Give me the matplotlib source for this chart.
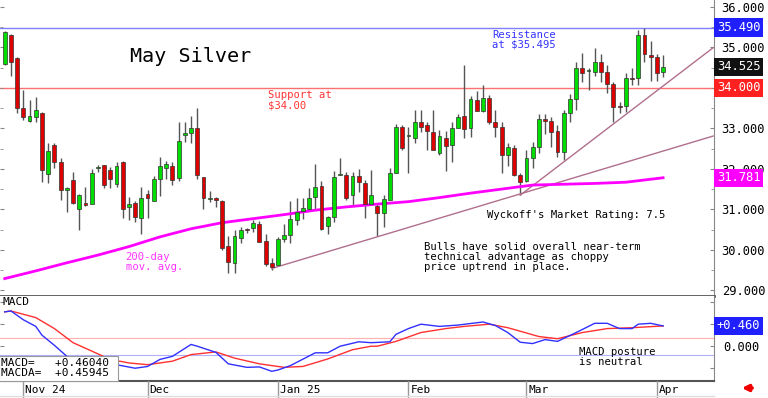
#!/usr/bin/env python3
import numpy as np
import matplotlib
matplotlib.use('Agg')
import matplotlib.pyplot as plt
import matplotlib.transforms as mtransforms

plt.rcParams['font.family'] = ['DejaVu Sans Mono']

# daily OHLC, May silver futures (late Oct 2024 - early Apr 2025)
opens = [34.58, 35.31, 34.73, 33.51, 33.19, 33.29, 33.37, 31.87, 32.59, 32.16,
         31.49, 31.72, 31.00, 31.15, 31.13, 32.01, 32.09, 31.97, 31.62, 32.18,
         31.05, 31.15, 30.78, 31.37, 31.21, 31.74, 32.03, 32.08, 31.77, 32.83,
         32.88, 33.00, 31.79, 31.25, 31.29, 31.20, 30.09, 29.68, 30.30, 30.50,
         30.55, 30.64, 30.21, 29.68, 29.62, 30.26, 30.36, 30.73, 30.96, 31.02,
         31.31, 31.58, 30.59, 30.82, 31.85, 31.86, 31.35, 31.82, 31.66, 31.13,
         31.08, 30.90, 31.23, 31.90, 33.04, 32.80, 32.75, 33.16, 33.08, 32.92,
         32.38, 32.77, 32.59, 33.02, 33.30, 33.00, 33.70, 33.43, 33.76, 33.15,
         33.04, 32.34, 32.52, 31.85, 31.70, 32.26, 32.55, 33.22, 33.19, 32.94,
         32.42, 33.37, 33.72, 34.50, 34.41, 34.40, 34.65, 34.40, 34.09, 33.55,
         33.54, 34.25, 34.24, 35.31, 34.81, 34.75, 34.38]
highs = [35.40, 35.33, 34.77, 33.95, 33.70, 33.78, 33.40, 32.65, 32.65, 32.27,
         31.54, 31.93, 31.39, 31.54, 31.99, 32.10, 32.09, 32.05, 32.16, 32.20,
         31.30, 31.20, 31.56, 31.49, 31.83, 32.30, 32.19, 32.16, 33.16, 33.16,
         33.31, 33.50, 31.80, 31.46, 31.30, 31.22, 30.34, 30.49, 30.57, 30.55,
         30.73, 30.70, 30.40, 29.79, 30.32, 30.65, 31.20, 31.27, 31.28, 31.52,
         32.11, 31.70, 30.84, 31.95, 32.26, 31.91, 31.92, 31.99, 31.72, 31.97,
         31.15, 31.35, 32.03, 33.10, 33.09, 33.04, 33.45, 33.45, 33.16, 33.45,
         32.97, 32.93, 33.16, 33.35, 34.57, 33.80, 33.92, 34.07, 33.82, 33.45,
         33.16, 32.64, 32.58, 31.90, 32.46, 32.67, 33.35, 33.36, 33.27, 33.09,
         33.45, 33.85, 34.65, 34.85, 34.48, 34.99, 34.83, 34.56, 34.15, 33.65,
         34.36, 34.50, 35.43, 35.49, 35.15, 34.83, 34.80]
lows = [34.56, 34.30, 33.37, 33.21, 33.16, 33.16, 31.68, 31.64, 32.03, 31.23,
        30.94, 31.12, 30.49, 31.09, 31.13, 31.92, 31.52, 31.52, 31.55, 30.79,
        30.73, 30.69, 30.38, 30.79, 31.21, 31.33, 31.76, 31.60, 31.69, 32.67,
        32.65, 31.75, 31.02, 31.19, 31.06, 30.00, 29.42, 29.42, 30.17, 30.41,
        30.44, 30.20, 29.60, 29.50, 29.62, 30.20, 30.16, 30.61, 30.75, 30.95,
        30.98, 30.50, 30.38, 30.68, 31.84, 31.23, 31.10, 31.43, 30.78, 31.10,
        30.35, 30.57, 31.23, 31.90, 32.46, 31.89, 32.63, 32.92, 32.46, 32.46,
        32.34, 31.95, 32.18, 33.00, 32.77, 32.79, 33.42, 33.40, 33.12, 32.79,
        31.89, 32.08, 31.83, 31.35, 31.68, 32.01, 32.38, 32.85, 32.55, 32.30,
        32.22, 33.16, 33.45, 34.15, 33.95, 34.30, 34.15, 33.87, 33.16, 33.37,
        33.41, 34.08, 34.08, 34.63, 34.17, 34.17, 34.26]
closes = [35.37, 34.65, 33.51, 33.29, 33.30, 33.45, 31.97, 32.45, 32.16, 31.48,
          31.53, 31.15, 31.35, 31.10, 31.90, 32.03, 31.60, 31.75, 32.08, 31.02,
          31.13, 30.80, 31.29, 31.27, 31.76, 32.07, 32.11, 31.72, 32.69, 32.89,
          33.00, 31.85, 31.27, 31.29, 31.22, 30.05, 29.70, 30.34, 30.49, 30.48,
          30.67, 30.20, 29.64, 29.58, 30.28, 30.36, 30.75, 30.94, 31.04, 31.29,
          31.56, 30.51, 30.82, 31.81, 31.87, 31.29, 31.83, 31.68, 31.13, 31.35,
          30.90, 31.25, 31.89, 33.04, 32.52, 32.82, 33.16, 33.04, 32.93, 32.46,
          32.80, 32.57, 33.00, 33.29, 32.98, 33.73, 33.43, 33.76, 33.15, 33.03,
          32.34, 32.55, 31.85, 31.68, 32.26, 32.55, 33.22, 33.18, 32.92, 32.42,
          33.37, 33.72, 34.48, 34.36, 34.42, 34.65, 34.40, 34.09, 33.53, 33.52,
          34.24, 34.22, 35.31, 34.83, 34.75, 34.36, 34.525]

# 200-day moving average, read at selected bars
ma_idx = [0, 5, 10, 15, 20, 25, 30, 35, 40, 45, 50, 55, 60, 65, 70, 75, 80, 85, 90, 95, 100, 106]
ma_val = [29.29, 29.48, 29.68, 29.87, 30.08, 30.32, 30.52, 30.67, 30.77, 30.87, 30.98,
          31.06, 31.13, 31.19, 31.29, 31.40, 31.50, 31.60, 31.62, 31.64, 31.67, 31.78]

# trendlines (bar index, price)
trend_a = [(43, 29.54), (114.05, 32.81)]
trend_b = [(83, 31.35), (114.05, 34.99)]

resistance = 35.49
support = 34.00
last_close = 34.525
last_ma = 31.781
price_ticks = [29, 30, 31, 32, 33, 35, 36]   # 34.000 sits under the support box

# MACD panel
macd_idx = [0, 1, 3, 5, 6, 8, 10, 12, 14, 16, 18, 21, 23, 25, 27, 30, 31, 34, 36, 39,
            41, 43, 44, 46, 50, 52, 54, 57, 59, 62, 63, 65, 67, 70, 73, 77, 79, 81, 83,
            85, 87, 89, 92, 95, 97, 99, 101, 102, 104, 106]
macd_val = [0.78, 0.80, 0.60, 0.45, 0.25, 0.02, -0.23, -0.35, -0.42, -0.45, -0.42, -0.50,
            -0.46, -0.30, -0.23, 0.04, 0.00, -0.14, -0.40, -0.48, -0.47, -0.57, -0.54,
            -0.44, -0.15, -0.15, 0.00, 0.10, 0.08, 0.10, 0.27, 0.40, 0.50, 0.45, 0.48,
            0.55, 0.47, 0.31, 0.09, 0.06, 0.15, 0.11, 0.31, 0.52, 0.52, 0.40, 0.40,
            0.50, 0.52, 0.46]
sig_idx = [0, 1, 5, 8, 11, 14, 17, 20, 23, 27, 30, 34, 37, 41, 45, 48, 52, 56, 59, 60,
           63, 67, 71, 74, 78, 81, 86, 89, 93, 97, 101, 106]
sig_val = [0.78, 0.80, 0.65, 0.40, 0.08, -0.11, -0.30, -0.38, -0.42, -0.34, -0.19, -0.13,
           -0.27, -0.40, -0.48, -0.46, -0.29, -0.08, 0.00, 0.00, 0.11, 0.31, 0.40, 0.45,
           0.50, 0.42, 0.22, 0.17, 0.31, 0.40, 0.42, 0.46]
macd_upper = 0.19
macd_lower = -0.21

month_idx = [3, 23, 44, 65, 84, 105]
month_lbl = ['Nov 24', 'Dec', 'Jan 25', 'Feb', 'Mar', 'Apr']

W, H = 768, 398
fig = plt.figure(figsize=(W / 100, H / 100), dpi=100)
fig.patch.set_facecolor('white')
axw = 714 / W
xlim = (-0.76, 114.2)

ax = fig.add_axes([0, 1 - 296 / H, axw, 296 / H])
ax2 = fig.add_axes([0, 1 - 381 / H, axw, 85 / H])
axd = fig.add_axes([0, 0, axw, 17 / H])

# ---- price panel ----
x = np.arange(len(closes))
o = np.array(opens); c = np.array(closes)
ax.vlines(x, lows, highs, color='#555555', lw=1, zorder=2)
up = c >= o
body = np.maximum(np.abs(c - o), 0.03)
ax.bar(x[up], body[up], bottom=np.minimum(o, c)[up], width=0.62, color='#00dd00',
       edgecolor='#333333', lw=0.5, zorder=3)
ax.bar(x[~up], body[~up], bottom=np.minimum(o, c)[~up], width=0.62, color='#dd0000',
       edgecolor='#333333', lw=0.5, zorder=3)

ax.plot(ma_idx, ma_val, color='#ff00ff', lw=2, zorder=2.5)
for tl in (trend_a, trend_b):
    ax.plot([tl[0][0], tl[1][0]], [tl[0][1], tl[1][1]], color='#b06f8c', lw=1, zorder=2)
ax.axhline(resistance, color='#7f7fff', lw=1, zorder=1)
ax.axhline(support, color='#ff7070', lw=1, zorder=1)

ax.set_xlim(*xlim)
ax.set_ylim(28.86, 36.17)
ax.set_xticks([])
ax.set_yticks(price_ticks)
ax.set_yticklabels(['%.3f' % v for v in price_ticks])
ax.set_yticks(np.arange(29, 36.5, 0.5), minor=True)
ax.tick_params(axis='y', which='both', direction='in', left=True, right=True,
               labelleft=False, labelright=True, color='#888888', length=3,
               labelsize=8.7, pad=5.5)
ax.tick_params(axis='y', which='minor', length=2)
for s in ('top', 'left'):
    ax.spines[s].set_visible(False)
ax.spines['right'].set_color('#888888')
ax.spines['bottom'].set_color('#555555')
ax.spines['bottom'].set_linewidth(2)

tr = mtransforms.blended_transform_factory(ax.transAxes, ax.transData)
for val, txt, bg in [(resistance, '35.490', '#2020ff'), (last_close, '34.525', '#111111'),
                     (support, '34.000', '#ff2020'), (last_ma, '31.781', '#ff00ff')]:
    ax.text(1.004, val, txt, transform=tr, fontsize=8.7, color='white', va='center',
            ha='left', bbox=dict(facecolor=bg, edgecolor='none', pad=1.8), zorder=5)

ax.text(0.182, 0.81, 'May Silver', transform=ax.transAxes, fontsize=14.5, va='center')
ax.text(0.689, 0.90, 'Resistance\nat $35.495', transform=ax.transAxes, fontsize=7.6,
        color='#3333ff', va='top', linespacing=1.0)
ax.text(0.375, 0.695, 'Support at\n$34.00', transform=ax.transAxes, fontsize=7.6,
        color='#ff3333', va='top', linespacing=1.0)
ax.text(0.176, 0.150, '200-day\nmov. avg.', transform=ax.transAxes, fontsize=7.6,
        color='#ff33ff', va='top', linespacing=1.0)
ax.text(0.682, 0.274, "Wyckoff's Market Rating: 7.5", transform=ax.transAxes,
        fontsize=7.6, va='center')
ax.text(0.594, 0.184, 'Bulls have solid overall near-term\ntechnical advantage as choppy\n'
        'price uptrend in place.', transform=ax.transAxes, fontsize=7.6, va='top',
        linespacing=1.0)

# ---- MACD panel ----
ax2.plot(sig_idx, sig_val, color='#ff3030', lw=1)
ax2.plot(macd_idx, macd_val, color='#3030ff', lw=1)
ax2.axhline(macd_upper, color='#ffb0b0', lw=0.8, zorder=0)
ax2.axhline(macd_lower, color='#b0b0ff', lw=0.8, zorder=0)
ax2.set_xlim(*xlim)
ax2.set_ylim(-0.79, 1.14)
ax2.set_xticks([])
ax2.set_yticks([-0.5, 0, 0.5, 1.0])
ax2.set_yticklabels(['', '0.000', '', ''])
ax2.tick_params(axis='y', direction='in', left=True, right=True, labelleft=False,
                labelright=True, color='#888888', length=3, labelsize=8.7, pad=6.5)
ax2.spines['top'].set_visible(False)
ax2.spines['left'].set_visible(False)
ax2.spines['right'].set_color('#888888')
ax2.spines['bottom'].set_color('#555555')
ax2.spines['bottom'].set_linewidth(1.5)
tr2 = mtransforms.blended_transform_factory(ax2.transAxes, ax2.transData)
ax2.text(1.004, 0.46, '+0.460', transform=tr2, fontsize=8.7, color='white', va='center',
         ha='left', bbox=dict(facecolor='#2020ff', edgecolor='none', pad=1.8))
ax2.text(0.003, 0.985, 'MACD', transform=ax2.transAxes, fontsize=8, va='top')
ax2.text(0.811, 0.40, 'MACD posture\nis neutral', transform=ax2.transAxes, fontsize=7.6,
         va='top', linespacing=1.0)
ax2.text(0.002, 0.03, 'MACD=   +0.46040\nMACDA=  +0.45945 ', transform=ax2.transAxes,
         fontsize=8, va='bottom', linespacing=1.1, zorder=6,
         bbox=dict(facecolor='white', edgecolor='#999999', pad=1.5, lw=0.8))

# ---- date axis ----
axd.set_xlim(*xlim)
axd.set_ylim(0, 1)
axd.axis('off')
for i, lbl in zip(month_idx, month_lbl):
    axd.axvline(i, color='#999999', lw=1)
    axd.text(i + 0.3, 0.45, lbl, fontsize=8, va='center', ha='left')

fig.add_artist(plt.Line2D([0, axw], [2 / H, 2 / H], color='#dddddd', lw=1))
plt.annotate('', xy=(739 / W, 10 / H), xytext=(755 / W, 10 / H), xycoords='figure fraction',
             arrowprops=dict(arrowstyle='-|>', color='#ee0000', lw=2.5, mutation_scale=9))

fig.savefig('out.png', dpi=100)
